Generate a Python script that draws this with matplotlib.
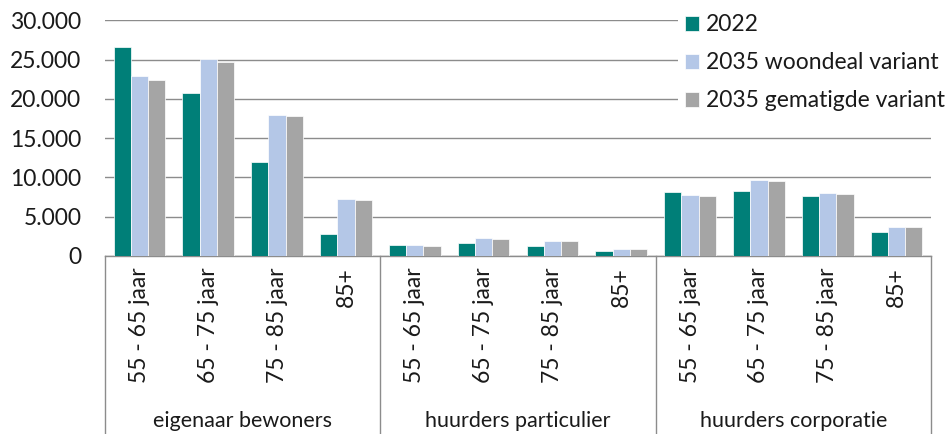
import matplotlib
matplotlib.use("Agg")
import matplotlib.pyplot as plt
import numpy as np

plt.rcParams['font.family'] = ['Lato', 'DejaVu Sans']

groups = ["eigenaar bewoners", "huurders particulier", "huurders corporatie"]
ages = ["55 - 65 jaar", "65 - 75 jaar", "75 - 85 jaar", "85+"]
series_names = ["2022", "2035 woondeal variant", "2035 gematigde variant"]
colors = ["#007F78", "#B4C7E7", "#A5A5A5"]

v2022 = [26650, 20750, 11950, 2850,
         1400, 1650, 1300, 600,
         8100, 8250, 7600, 3100]
woondeal = [22900, 25050, 17950, 7250,
            1400, 2250, 1850, 850,
            7750, 9700, 8000, 3750]
gematigd = [22350, 24750, 17800, 7150,
            1330, 2200, 1850, 850,
            7600, 9550, 7950, 3750]
yticks = [0, 5000, 10000, 15000, 20000, 25000, 30000]

W, H = 947, 434
FS = 16.5
fig = plt.figure(figsize=(W / 100, H / 100), dpi=100)
ax_left, ax_right, ax_top, ax_bot = 105, 931, 20.3, 256
ax = fig.add_axes([ax_left / W, 1 - ax_bot / H,
                   (ax_right - ax_left) / W, (ax_bot - ax_top) / H])

labels = [a for _ in groups for a in ages]
x = np.arange(len(labels))
bw = 0.25
for i, (vals, name, c) in enumerate(zip([v2022, woondeal, gematigd], series_names, colors)):
    ax.bar(x + (i - 1) * bw, vals, width=bw, color=c, label=name,
           edgecolor="white", linewidth=0.5, zorder=3)

ax.set_xlim(-0.5, len(labels) - 0.5)
ax.set_ylim(0, 30000)
ax.set_yticks(yticks)
ax.set_yticklabels([f"{v:,}".replace(",", ".") for v in yticks], fontsize=FS, color="#1a1a1a")
ax.grid(axis="y", color="#8C8C8C", linewidth=1.0, zorder=0)
ax.set_axisbelow(True)
ax.tick_params(axis="y", length=0, pad=17)
ax.set_xticks(x)
ax.set_xticklabels(labels, rotation=90, fontsize=FS, color="#1a1a1a")
ax.tick_params(axis="x", length=0, pad=8)
for s in ["top", "right", "left"]:
    ax.spines[s].set_visible(False)
ax.spines["bottom"].set_color("#8C8C8C")
ax.spines["bottom"].set_linewidth(1.0)

# dividers of the two-level category axis
axh = ax_bot - ax_top
ybot = -(H - ax_bot) / axh
n = len(ages)
for k in range(len(groups) + 1):
    xv = k * n - 0.5
    ax.plot([xv, xv], [0, ybot], transform=ax.get_xaxis_transform(),
            color="#8C8C8C", linewidth=1.0, clip_on=False)
for k, g in enumerate(groups):
    ax.text(k * n + (n - 1) / 2, -(421 - ax_bot) / axh, g,
            transform=ax.get_xaxis_transform(), ha="center", va="center",
            fontsize=15.5, color="#1a1a1a")

fs_px = FS * 100 / 72
bp = 0.3
leg = fig.legend(loc="upper left",
                 bbox_to_anchor=((685 - bp * fs_px) / W, 1 - 7.5 / H),
                 fontsize=FS, frameon=True, facecolor="white", edgecolor="none",
                 framealpha=1, handlelength=0.62, handleheight=0.62,
                 handletextpad=0.3, labelspacing=0.74, borderpad=bp,
                 borderaxespad=0, fancybox=False)
leg.set_zorder(5)
for t in leg.get_texts():
    t.set_color("#1a1a1a")

fig.savefig("out.png", dpi=100)
